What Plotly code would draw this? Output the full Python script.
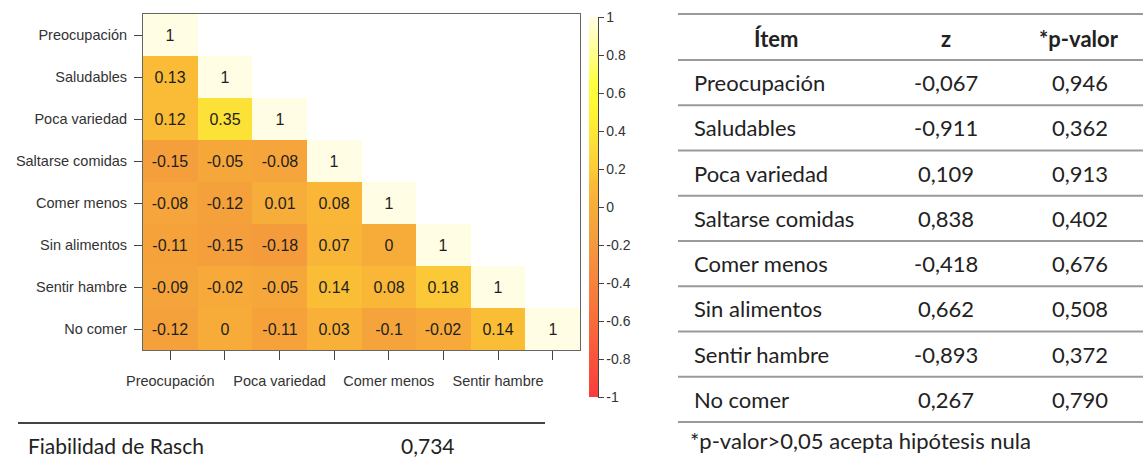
import plotly.graph_objects as go

W, H = 1143, 459

# ---------------- data ----------------
items = ["Preocupación", "Saludables", "Poca variedad", "Saltarse comidas",
         "Comer menos", "Sin alimentos", "Sentir hambre", "No comer"]

corr_rows = [
    [1],
    [0.13, 1],
    [0.12, 0.35, 1],
    [-0.15, -0.05, -0.08, 1],
    [-0.08, -0.12, 0.01, 0.08, 1],
    [-0.11, -0.15, -0.18, 0.07, 0, 1],
    [-0.09, -0.02, -0.05, 0.14, 0.08, 0.18, 1],
    [-0.12, 0, -0.11, 0.03, -0.1, -0.02, 0.14, 1],
]

x_tick_labels = ["Preocupación", "", "Poca variedad", "", "Comer menos", "", "Sentir hambre", ""]
cbar_ticks = [1, 0.8, 0.6, 0.4, 0.2, 0, -0.2, -0.4, -0.6, -0.8, -1]

table_header = ["Ítem", "z", "*p-valor"]
z_values = [-0.067, -0.911, 0.109, 0.838, -0.418, 0.662, -0.893, 0.267]
p_values = [0.946, 0.362, 0.913, 0.402, 0.676, 0.508, 0.372, 0.790]
footnote = "*p-valor>0,05 acepta hipótesis nula"

rasch_label = "Fiabilidad de Rasch"
rasch_value = 0.734

# ---------------- helpers ----------------
def px(x):
    return x / W

def py(y):
    return 1 - y / H

def comma(v, nd=3):
    return f"{v:.{nd}f}".replace(".", ",")

def rfmt(v):
    return f"{round(v, 2):g}"

n = len(items)
zmat = [[(corr_rows[i][j] if j <= i else None) for j in range(n)] for i in range(n)]
tmat = [[(rfmt(corr_rows[i][j]) if j <= i else "") for j in range(n)] for i in range(n)]

colorscale = [
    [0.000, "rgb(250,60,60)"],
    [0.250, "rgb(248,120,60)"],
    [0.425, "rgb(244,158,60)"],
    [0.500, "rgb(247,172,57)"],
    [0.565, "rgb(250,188,54)"],
    [0.590, "rgb(251,200,55)"],
    [0.675, "rgb(252,225,55)"],
    [0.750, "rgb(255,245,50)"],
    [0.825, "rgb(255,255,62)"],
    [0.925, "rgb(255,255,160)"],
    [1.000, "rgb(255,253,228)"],
]

AXFONT = dict(family="Liberation Sans, Arial", size=14.5, color="#333333")
TFONT = dict(family="Lato", size=22, color="#222222")

fig = go.Figure()
fig.add_trace(go.Heatmap(
    z=zmat, x=list(range(n)), y=list(range(n)),
    text=tmat, texttemplate="%{text}",
    textfont=dict(family="Liberation Sans, Arial", size=16, color="#1e1e1e"),
    colorscale=colorscale, zmin=-1, zmax=1, hoverongaps=False,
    colorbar=dict(
        x=px(589), xanchor="left", xpad=0, ypad=0,
        y=py(207), yanchor="middle",
        lenmode="pixels", len=380, thickness=9,
        outlinewidth=0,
        tickvals=cbar_ticks, ticktext=[rfmt(v) for v in cbar_ticks],
        ticks="outside", ticklen=6, tickcolor="#444444",
        tickfont=dict(family="Liberation Sans, Arial", size=14, color="#333333"),
    ),
))

fig.update_xaxes(
    domain=[px(143), px(580)], range=[-0.5, n - 0.5],
    tickvals=list(range(n)), ticktext=x_tick_labels,
    ticks="outside", ticklen=9, tickcolor="#444444",
    ticklabelstandoff=9, automargin=False,
    showline=True, mirror=True, linecolor="#666666", linewidth=1,
    showgrid=False, zeroline=False, tickfont=AXFONT, fixedrange=True,
)
fig.update_yaxes(
    domain=[py(350), py(14)], range=[n - 0.5, -0.5],
    tickvals=list(range(n)), ticktext=items,
    ticks="outside", ticklen=8, tickcolor="#444444",
    ticklabelstandoff=4, automargin=False,
    showline=True, mirror=True, linecolor="#666666", linewidth=1,
    showgrid=False, zeroline=False, tickfont=AXFONT, fixedrange=True,
)

shapes = []
annotations = []

# colorbar axis line
shapes.append(dict(type="line", xref="paper", yref="paper",
                   x0=px(598.5), x1=px(598.5), y0=py(17), y1=py(397),
                   line=dict(color="#444444", width=1)))

# table lines
line_ys = [14, 60] + [60 + 45.25 * k for k in range(1, n + 1)]
for yv in line_ys:
    shapes.append(dict(type="line", xref="paper", yref="paper",
                       x0=px(678), x1=1.0, y0=py(yv), y1=py(yv),
                       line=dict(color="#9a9a9a", width=2)))

# header
hdr_x = [776, 946, 1079]
for txt, xv in zip(table_header, hdr_x):
    annotations.append(dict(text=f"<b>{txt}</b>", x=px(xv), y=py(38), xref="paper", yref="paper",
                            xanchor="center", yanchor="middle", showarrow=False, font=TFONT))

for i, (it, zv, pv) in enumerate(zip(items, z_values, p_values)):
    yc = py(60 + 45.25 * (i + 0.5))
    annotations.append(dict(text=it, x=px(692), y=yc, xref="paper", yref="paper",
                            xanchor="left", yanchor="middle", showarrow=False, font=TFONT))
    annotations.append(dict(text=comma(zv), x=px(946), y=yc, xref="paper", yref="paper",
                            xanchor="center", yanchor="middle", showarrow=False, font=TFONT))
    annotations.append(dict(text=comma(pv), x=px(1080), y=yc, xref="paper", yref="paper",
                            xanchor="center", yanchor="middle", showarrow=False, font=TFONT))

annotations.append(dict(text=footnote, x=px(688), y=py(440), xref="paper", yref="paper",
                        xanchor="left", yanchor="middle", showarrow=False, font=TFONT))

# Rasch reliability
RFONT = dict(family="Lato", size=21, color="#222222")
shapes.append(dict(type="line", xref="paper", yref="paper",
                   x0=px(18), x1=px(545), y0=py(423), y1=py(423),
                   line=dict(color="#444444", width=2)))
annotations.append(dict(text=rasch_label, x=px(26), y=py(445), xref="paper", yref="paper",
                        xanchor="left", yanchor="middle", showarrow=False, font=RFONT))
annotations.append(dict(text=comma(rasch_value), x=px(428), y=py(445), xref="paper", yref="paper",
                        xanchor="center", yanchor="middle", showarrow=False, font=RFONT))

fig.update_layout(
    width=W, height=H,
    margin=dict(l=0, r=0, t=0, b=0, autoexpand=False),
    paper_bgcolor="white", plot_bgcolor="white",
    shapes=shapes, annotations=annotations,
    showlegend=False,
)

fig.write_html("out.html",
               config={"displayModeBar": False},
               post_script="document.body.style.margin='0px';document.body.style.overflow='hidden';")
